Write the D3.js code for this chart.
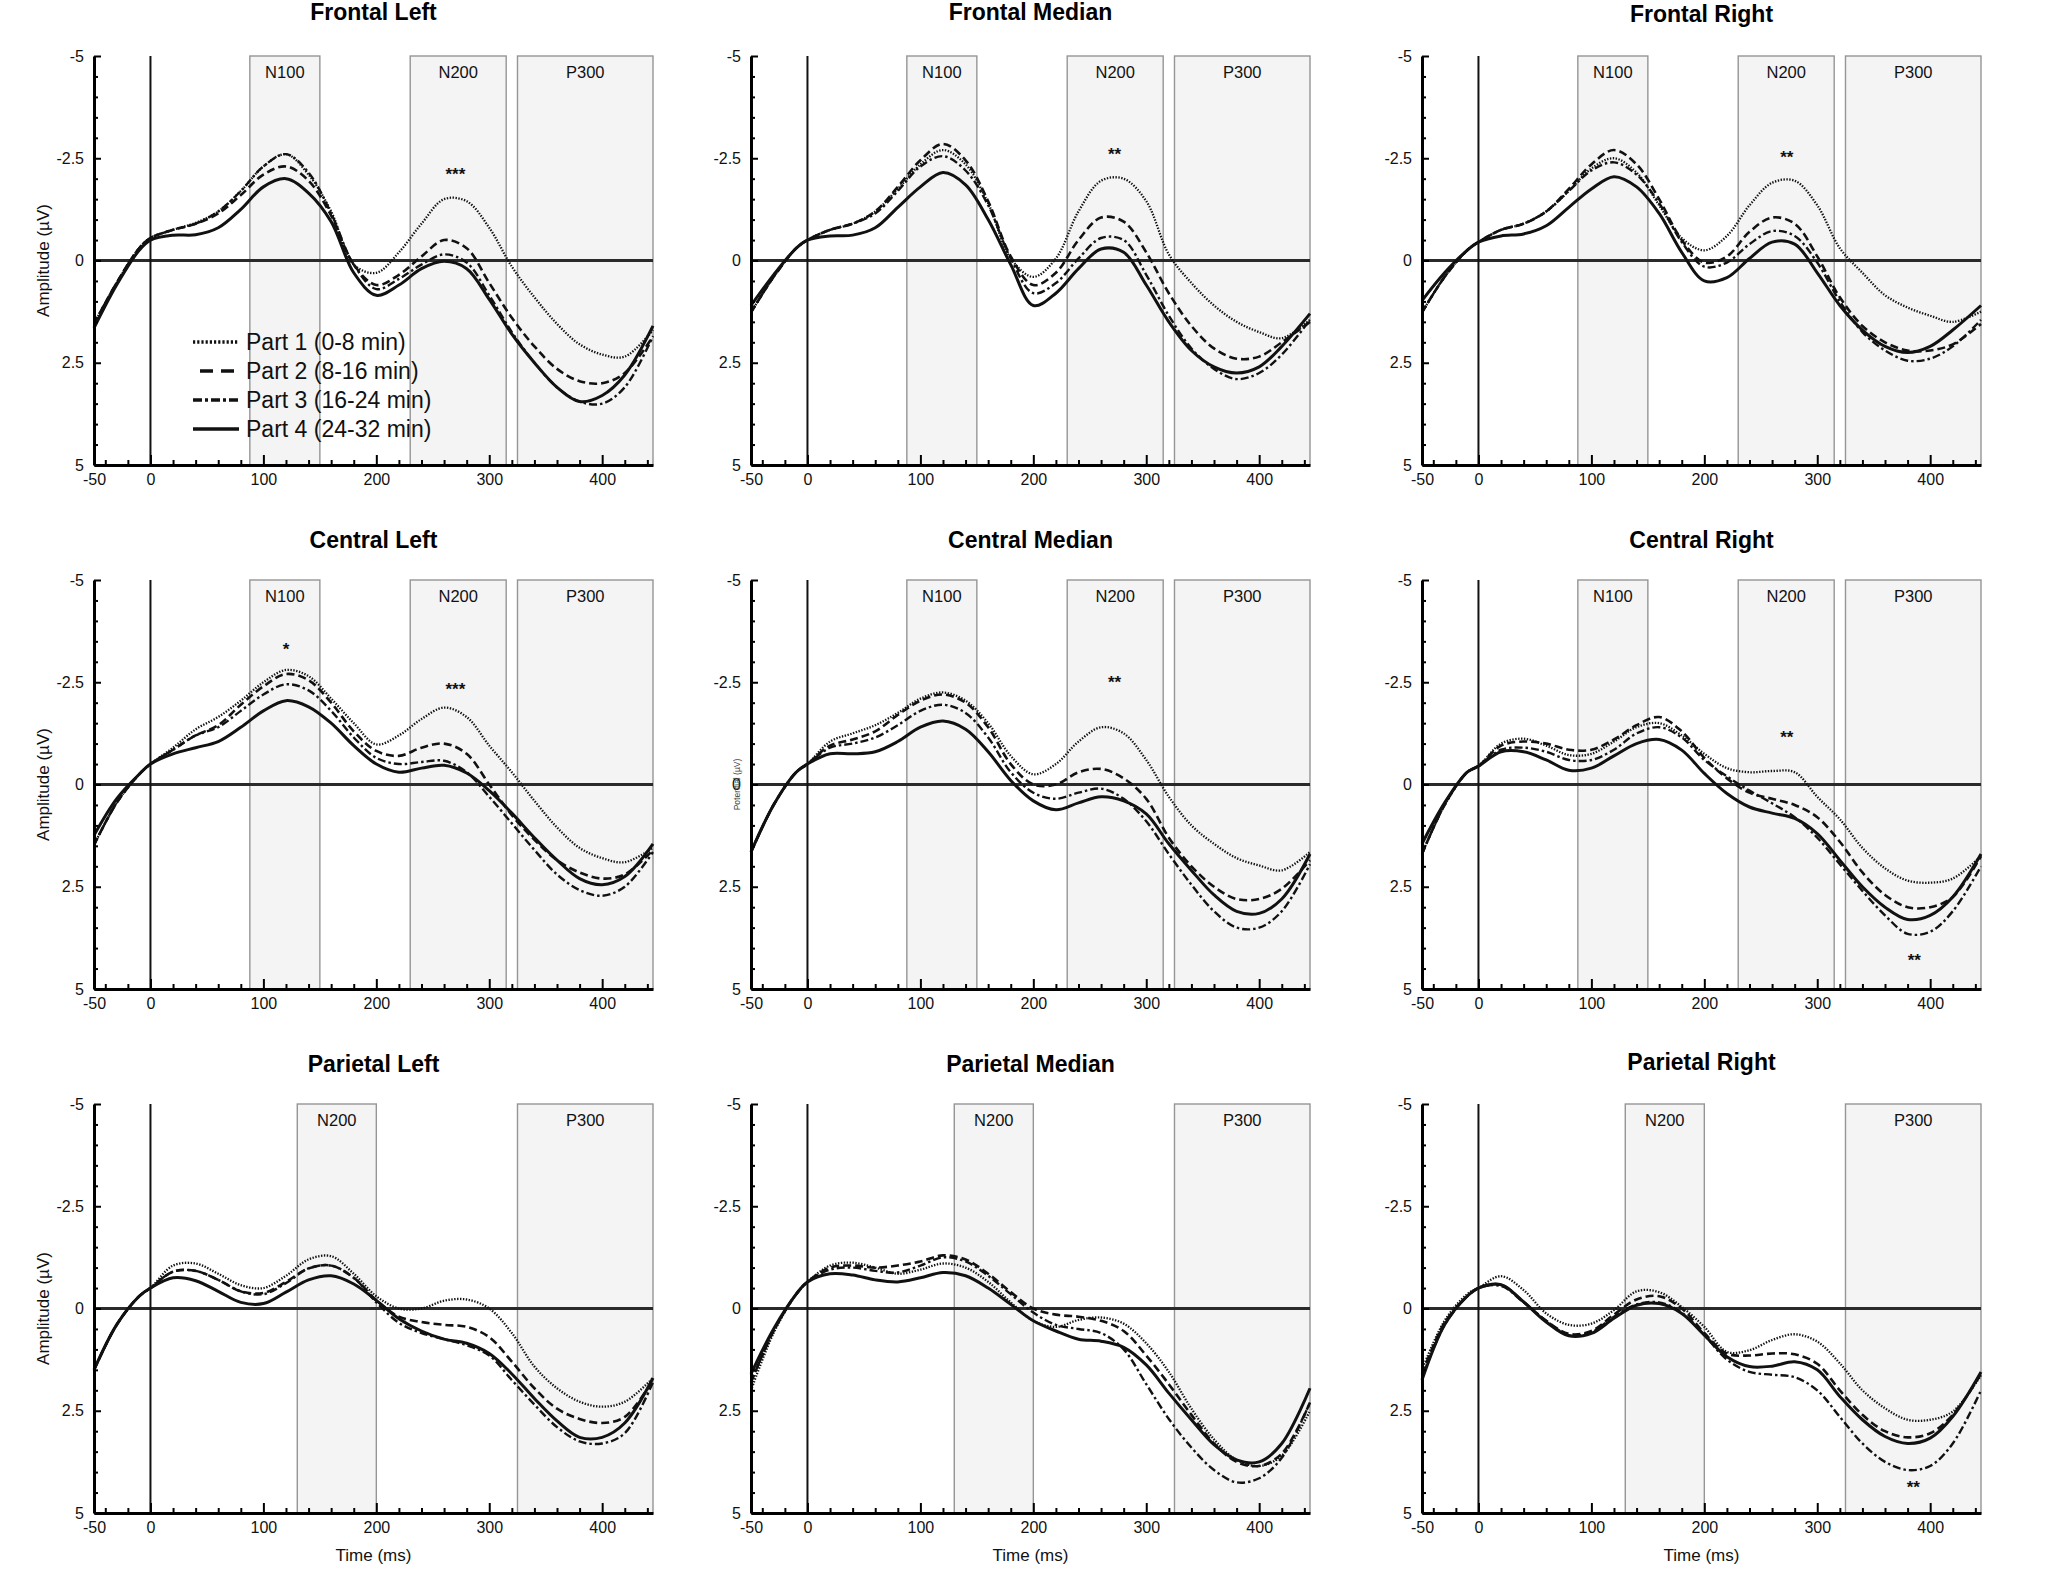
<!DOCTYPE html>
<html><head><meta charset="utf-8">
<script src="https://cdn.jsdelivr.net/npm/d3@7"></script>
<style>body{margin:0;background:#fff;} svg{display:block;} text{font-family:"Liberation Sans",Arial,Helvetica,sans-serif;}</style>
</head><body><svg id="c" width="2050" height="1569"></svg>
<script>
// ---------- data ----------
const times = [-50,-30,-10,0,20,40,60,80,100,120,140,160,180,200,220,240,260,280,300,320,340,360,380,400,420,445];
const seriesNames = ["Part 1 (0-8 min)","Part 2 (8-16 min)","Part 3 (16-24 min)","Part 4 (24-32 min)"];
const panelTitles = ["Frontal Left","Frontal Median","Frontal Right","Central Left","Central Median","Central Right","Parietal Left","Parietal Median","Parietal Right"];
const yTicks = [-5,-2.5,0,2.5,5];
const xTicks = [-50,0,100,200,300,400];

const frontalLeft = [
 [1.55,0.55,-0.3,-0.55,-0.75,-0.92,-1.2,-1.7,-2.3,-2.6,-2.1,-1.2,0.1,0.3,-0.2,-0.9,-1.5,-1.45,-0.8,0.15,0.9,1.55,2.05,2.3,2.35,1.7],
 [1.55,0.55,-0.3,-0.55,-0.75,-0.9,-1.15,-1.6,-2.1,-2.3,-1.95,-1.1,0.1,0.6,0.35,-0.1,-0.5,-0.3,0.55,1.4,2.1,2.65,2.95,3.0,2.75,1.85],
 [1.55,0.55,-0.3,-0.55,-0.75,-0.9,-1.2,-1.7,-2.3,-2.6,-2.15,-1.15,0.1,0.7,0.45,0.1,-0.15,0.05,0.85,1.75,2.5,3.1,3.45,3.5,3.1,1.85],
 [1.65,0.6,-0.25,-0.5,-0.62,-0.63,-0.8,-1.25,-1.8,-2.0,-1.65,-0.95,0.3,0.85,0.6,0.2,0.02,0.2,0.95,1.8,2.5,3.1,3.45,3.3,2.8,1.6]
];
const frontalMedian = [
 [1.27,0.4,-0.3,-0.5,-0.75,-0.9,-1.2,-1.75,-2.35,-2.7,-2.35,-1.4,-0.05,0.4,-0.05,-1.2,-1.95,-2.0,-1.45,-0.15,0.55,1.1,1.5,1.75,1.9,1.45],
 [1.27,0.4,-0.3,-0.5,-0.75,-0.9,-1.2,-1.8,-2.45,-2.85,-2.45,-1.45,-0.1,0.6,0.3,-0.5,-1.05,-0.95,-0.2,0.8,1.6,2.15,2.4,2.35,2.0,1.5],
 [1.27,0.4,-0.3,-0.5,-0.75,-0.9,-1.15,-1.7,-2.3,-2.55,-2.2,-1.35,-0.05,0.8,0.55,-0.05,-0.55,-0.5,0.35,1.35,2.15,2.65,2.9,2.75,2.3,1.45],
 [1.1,0.35,-0.3,-0.5,-0.6,-0.62,-0.8,-1.3,-1.8,-2.15,-1.85,-1.0,0.1,1.1,0.8,0.2,-0.28,-0.2,0.6,1.5,2.2,2.6,2.75,2.6,2.1,1.3]
];
const frontalRight = [
 [1.27,0.4,-0.25,-0.45,-0.75,-0.9,-1.2,-1.7,-2.25,-2.5,-2.15,-1.35,-0.55,-0.25,-0.6,-1.35,-1.9,-1.95,-1.35,-0.3,0.3,0.85,1.15,1.35,1.5,1.25],
 [1.27,0.4,-0.25,-0.45,-0.75,-0.9,-1.2,-1.75,-2.35,-2.7,-2.35,-1.5,-0.5,0.05,-0.1,-0.7,-1.05,-0.9,-0.1,0.9,1.6,2.0,2.2,2.2,2.05,1.55],
 [1.27,0.4,-0.25,-0.45,-0.75,-0.9,-1.2,-1.7,-2.2,-2.4,-2.1,-1.4,-0.45,0.15,0.05,-0.4,-0.72,-0.6,0.05,1.0,1.75,2.2,2.45,2.4,2.1,1.45],
 [0.98,0.3,-0.25,-0.45,-0.6,-0.65,-0.85,-1.3,-1.75,-2.05,-1.8,-1.15,-0.2,0.5,0.42,-0.05,-0.45,-0.4,0.3,1.1,1.7,2.1,2.25,2.1,1.7,1.1]
];
const centralLeft = [
 [1.48,0.45,-0.25,-0.5,-0.9,-1.35,-1.65,-2.05,-2.5,-2.8,-2.65,-2.1,-1.5,-0.98,-1.2,-1.6,-1.88,-1.65,-0.95,-0.3,0.4,1.05,1.55,1.8,1.9,1.55],
 [1.48,0.45,-0.25,-0.5,-0.85,-1.2,-1.45,-1.95,-2.4,-2.7,-2.55,-2.0,-1.3,-0.82,-0.7,-0.9,-1.0,-0.75,0.0,0.75,1.35,1.85,2.15,2.3,2.2,1.6],
 [1.48,0.45,-0.25,-0.5,-0.85,-1.2,-1.4,-1.8,-2.2,-2.45,-2.3,-1.8,-1.15,-0.65,-0.5,-0.55,-0.58,-0.3,0.3,0.95,1.6,2.2,2.58,2.72,2.5,1.65],
 [1.24,0.35,-0.25,-0.5,-0.75,-0.9,-1.05,-1.4,-1.8,-2.05,-1.9,-1.5,-0.95,-0.5,-0.3,-0.4,-0.47,-0.28,0.15,0.7,1.3,1.85,2.3,2.45,2.25,1.45]
];
const centralMedian = [
 [1.65,0.5,-0.3,-0.5,-1.05,-1.25,-1.45,-1.75,-2.1,-2.25,-2.05,-1.5,-0.7,-0.25,-0.5,-1.05,-1.4,-1.25,-0.6,0.3,1.0,1.45,1.8,1.98,2.1,1.65],
 [1.65,0.5,-0.3,-0.5,-0.95,-1.1,-1.3,-1.7,-2.05,-2.2,-2.0,-1.4,-0.5,0.0,0.0,-0.3,-0.38,-0.15,0.35,1.3,2.0,2.5,2.8,2.8,2.55,1.85],
 [1.65,0.5,-0.3,-0.5,-0.9,-1.0,-1.15,-1.45,-1.8,-1.95,-1.75,-1.15,-0.3,0.2,0.35,0.2,0.1,0.35,0.9,1.7,2.45,3.1,3.5,3.5,3.1,1.95],
 [1.65,0.5,-0.3,-0.5,-0.75,-0.75,-0.8,-1.05,-1.4,-1.55,-1.35,-0.8,-0.1,0.4,0.62,0.45,0.3,0.4,0.72,1.45,2.1,2.7,3.1,3.15,2.8,1.7]
];
const centralRight = [
 [1.7,0.5,-0.3,-0.45,-1.0,-1.12,-0.95,-0.72,-0.75,-1.05,-1.4,-1.5,-1.2,-0.75,-0.4,-0.3,-0.33,-0.3,0.3,0.85,1.55,2.05,2.35,2.4,2.3,1.75],
 [1.7,0.5,-0.3,-0.45,-0.95,-1.05,-1.0,-0.85,-0.85,-1.1,-1.45,-1.65,-1.3,-0.65,-0.15,0.2,0.35,0.5,0.8,1.4,2.15,2.7,3.0,3.0,2.75,1.75],
 [1.7,0.5,-0.3,-0.45,-0.85,-0.9,-0.8,-0.6,-0.6,-0.85,-1.25,-1.4,-1.15,-0.6,-0.2,0.15,0.46,0.8,1.3,1.95,2.6,3.2,3.65,3.6,3.1,2.0],
 [1.45,0.45,-0.3,-0.45,-0.8,-0.8,-0.6,-0.35,-0.4,-0.7,-1.0,-1.1,-0.84,-0.27,0.22,0.55,0.7,0.83,1.2,1.85,2.5,3.0,3.3,3.2,2.75,1.7]
];
const parietalLeft = [
 [1.5,0.4,-0.3,-0.5,-1.05,-1.1,-0.85,-0.57,-0.5,-0.8,-1.2,-1.28,-0.85,-0.3,0.0,0.0,-0.19,-0.22,0.0,0.6,1.42,1.95,2.28,2.4,2.28,1.7],
 [1.5,0.4,-0.3,-0.5,-0.9,-0.92,-0.7,-0.42,-0.38,-0.65,-0.98,-1.05,-0.75,-0.2,0.2,0.33,0.4,0.45,0.7,1.3,1.95,2.45,2.7,2.8,2.65,1.75],
 [1.5,0.4,-0.3,-0.5,-0.9,-0.92,-0.7,-0.42,-0.35,-0.62,-0.98,-1.05,-0.75,-0.15,0.35,0.6,0.75,0.9,1.15,1.75,2.35,2.9,3.25,3.3,3.05,1.8],
 [1.5,0.4,-0.3,-0.5,-0.75,-0.68,-0.42,-0.15,-0.12,-0.4,-0.7,-0.8,-0.6,-0.2,0.25,0.55,0.75,0.85,1.1,1.6,2.2,2.75,3.15,3.15,2.8,1.7]
];
const parietalMedian = [
 [2.0,0.6,-0.35,-0.65,-1.05,-1.12,-1.0,-0.85,-0.95,-1.1,-1.0,-0.65,-0.15,0.3,0.45,0.28,0.22,0.37,0.85,1.55,2.45,3.2,3.7,3.85,3.6,2.5],
 [1.8,0.55,-0.35,-0.65,-1.0,-1.05,-1.0,-1.05,-1.15,-1.3,-1.2,-0.85,-0.4,0.0,0.15,0.2,0.3,0.55,1.15,1.85,2.6,3.3,3.75,3.85,3.55,2.3],
 [1.8,0.55,-0.35,-0.65,-0.95,-1.0,-0.92,-0.88,-1.05,-1.25,-1.15,-0.8,-0.35,0.1,0.4,0.5,0.6,1.0,1.85,2.7,3.4,3.95,4.25,4.15,3.65,2.3],
 [1.6,0.5,-0.35,-0.65,-0.85,-0.82,-0.7,-0.65,-0.75,-0.88,-0.8,-0.5,-0.1,0.3,0.55,0.75,0.8,0.95,1.38,2.07,2.72,3.33,3.7,3.75,3.3,1.95]
];
const parietalRight = [
 [1.5,0.3,-0.35,-0.5,-0.79,-0.45,0.12,0.4,0.37,0.04,-0.42,-0.4,-0.04,0.45,1.06,1.02,0.77,0.63,0.81,1.34,2.0,2.44,2.72,2.72,2.52,1.63],
 [1.6,0.35,-0.3,-0.5,-0.58,-0.16,0.3,0.62,0.55,0.15,-0.22,-0.3,0.0,0.6,1.1,1.15,1.1,1.12,1.35,2.0,2.6,3.0,3.15,3.05,2.6,1.6],
 [1.7,0.4,-0.3,-0.5,-0.55,-0.15,0.3,0.65,0.58,0.2,-0.1,-0.15,0.1,0.65,1.25,1.55,1.62,1.68,2.0,2.65,3.3,3.75,3.95,3.85,3.3,2.0],
 [1.75,0.4,-0.3,-0.5,-0.58,-0.16,0.33,0.67,0.61,0.24,-0.08,-0.12,0.12,0.65,1.18,1.42,1.41,1.3,1.5,2.15,2.72,3.13,3.3,3.17,2.64,1.55]
];
const panelData = [frontalLeft,frontalMedian,frontalRight,centralLeft,centralMedian,centralRight,parietalLeft,parietalMedian,parietalRight];

const frontalWindows = [["N100",88,150],["N200",230,315],["P300",325,445]];
const parietalWindows = [["N200",130,200],["P300",325,445]];

// [panel index, label, time, amplitude]
const stars = [
 [0,"***",270,-2.2],[1,"**",272,-2.68],[2,"**",273,-2.6],
 [3,"*",120,-3.38],[3,"***",270,-2.4],[4,"**",272,-2.57],
 [5,"**",273,-1.23],[5,"**",386,4.22],[8,"**",385,4.29]
];

// ---------- drawing ----------
const svg = d3.select("#c");
svg.append("rect").attr("width",2050).attr("height",1569).attr("fill","#fff");
const colX = [94, 751, 1422], rowY = [56, 580, 1104];
const W = 559, H = 409;
const titleBase = [[20, 20, 22], [548, 548, 548], [1072, 1072, 1070]];
const styles = [
  {w:2.3, dash:"1.4,1.5"},
  {w:2.6, dash:"8,4"},
  {w:2.4, dash:"8,3,2.5,3"},
  {w:3.0, dash:null}
];
const minorY = d3.range(-5,5.001,0.5).filter(v => Math.abs(v % 2.5) > 1e-6);
const minorX = d3.range(-40,441,20).filter(v => v % 100 !== 0);

panelData.forEach((series, i) => {
  const r = Math.floor(i/3), c = i%3;
  const g = svg.append("g").attr("transform",`translate(${colX[c]},${rowY[r]})`);
  const x = d3.scaleLinear().domain([-50,445]).range([0,W]);
  const y = d3.scaleLinear().domain([-5,5]).range([0,H]);

  const wins = r === 2 ? parietalWindows : frontalWindows;
  wins.forEach(w => {
    g.append("rect").attr("x",x(w[1])).attr("y",0).attr("width",x(w[2])-x(w[1])).attr("height",H)
      .attr("fill","#f4f4f4").attr("stroke","#959595").attr("stroke-width",1.4);
    g.append("text").attr("x",(x(w[1])+x(w[2]))/2).attr("y",22).attr("text-anchor","middle")
      .attr("font-size",16.5).attr("fill","#111").text(w[0]);
  });

  g.append("line").attr("x1",0).attr("x2",W).attr("y1",y(0)).attr("y2",y(0))
    .attr("stroke","#2a2a2a").attr("stroke-width",3);
  g.append("line").attr("x1",x(0)).attr("x2",x(0)).attr("y1",0).attr("y2",H)
    .attr("stroke","#111").attr("stroke-width",2);

  const line = d3.line().x((d,j) => x(times[j])).y(d => y(d)).curve(d3.curveCatmullRom.alpha(0.5));
  series.forEach((vals, k) => {
    const p = g.append("path").attr("d", line(vals)).attr("fill","none")
      .attr("stroke","#111").attr("stroke-width",styles[k].w).attr("stroke-linejoin","round");
    if (styles[k].dash) p.attr("stroke-dasharray", styles[k].dash);
  });

  // axes
  g.append("g").call(d3.axisLeft(y).tickValues(yTicks).tickSize(-7).tickSizeOuter(0).tickPadding(10).tickFormat(d => String(d)));
  g.append("g").call(d3.axisLeft(y).tickValues(minorY).tickSize(-4).tickSizeOuter(0).tickFormat(""))
    .call(s => s.select(".domain").remove());
  g.append("g").attr("transform",`translate(0,${H})`)
    .call(d3.axisBottom(x).tickValues(xTicks).tickSize(-10).tickSizeOuter(0).tickPadding(9).tickFormat(d => String(d)));
  g.append("g").attr("transform",`translate(0,${H})`)
    .call(d3.axisBottom(x).tickValues(minorX).tickSize(-5).tickSizeOuter(0).tickFormat(""))
    .call(s => s.select(".domain").remove());
  g.selectAll(".domain").attr("stroke","#000").attr("stroke-width",3);
  g.selectAll(".tick line").attr("stroke","#000").attr("stroke-width",2);
  g.selectAll(".tick text").attr("font-size",16).attr("fill","#111")
    .attr("font-family",'"Liberation Sans",Arial,sans-serif');

  // title
  svg.append("text").attr("x",colX[c]+W/2).attr("y",titleBase[r][c]).attr("text-anchor","middle")
    .attr("font-size",23).attr("font-weight","bold").attr("fill","#000").text(panelTitles[i]);

  // stars
  stars.filter(s => s[0] === i).forEach(s => {
    g.append("text").attr("x",x(s[2])).attr("y",y(s[3])+9).attr("text-anchor","middle")
      .attr("font-size",17).attr("font-weight","bold").attr("fill","#111").text(s[1]);
  });

  if (c === 0) {
    svg.append("text").attr("transform",`translate(43,${rowY[r]+H/2}) rotate(-90)`)
      .attr("text-anchor","middle").attr("dominant-baseline","central")
      .attr("font-size",17).attr("fill","#111").text("Amplitude (µV)");
  }
  if (r === 2) {
    svg.append("text").attr("x",colX[c]+W/2).attr("y",1561).attr("text-anchor","middle")
      .attr("font-size",17).attr("fill","#111").text("Time (ms)");
  }
  if (i === 4) {
    svg.append("text").attr("transform",`translate(737,${rowY[r]+H/2}) rotate(-90)`)
      .attr("text-anchor","middle").attr("dominant-baseline","central")
      .attr("font-size",8.5).attr("fill","#444").text("Potential (µV)");
  }
});

// legend (Frontal Left panel)
const legendRowsY = [342, 371, 400, 429];
const legendDash = ["2.2,2", "13,8", "9,3,3,3", null];
const lg = svg.append("g");
seriesNames.forEach((name, k) => {
  const ln = lg.append("line").attr("x1", k===1 ? 200 : 193).attr("x2",239)
    .attr("y1",legendRowsY[k]).attr("y2",legendRowsY[k])
    .attr("stroke","#111").attr("stroke-width",3.6);
  if (legendDash[k]) ln.attr("stroke-dasharray", legendDash[k]);
  lg.append("text").attr("x",246).attr("y",legendRowsY[k]).attr("dominant-baseline","central")
    .attr("font-size",23).attr("fill","#111").text(name);
});
</script>
</body></html>
